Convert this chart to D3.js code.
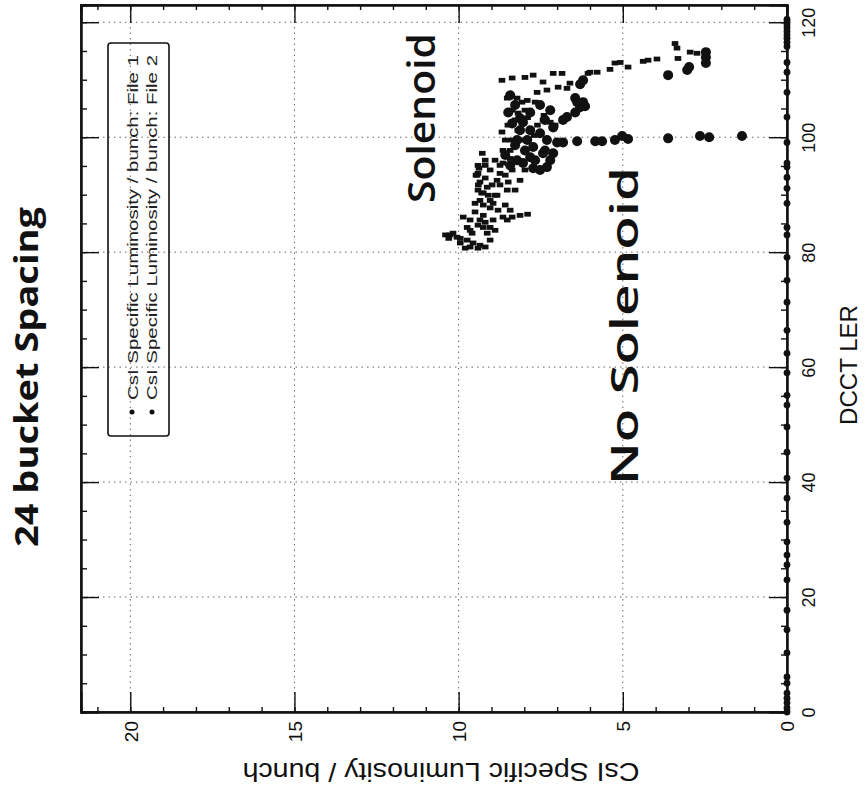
<!DOCTYPE html>
<html><head><meta charset="utf-8">
<script src="https://cdn.jsdelivr.net/npm/d3@7"></script>
<style>body{margin:0;background:#fff}</style>
</head><body>
<svg id="c" width="866" height="796"></svg>
<script>
// ---- data ----
const dcctTicks = [0,20,40,60,80,100,120];
const csiTicks = [0,5,10,15,20];
const legendLabels = ["CsI Specific Luminosity / bunch: File 1","CsI Specific Luminosity / bunch: File 2"];
// File 1 points: [DCCT LER, CsI specific luminosity]
const file1 = [
[109.9,8.68],[110.3,8.37],[110.4,7.98],[110.8,7.73],[109.6,7.43],[111.1,7.12],[111.1,6.85],
[107.8,7.61],[108.2,7.31],[108.7,6.97],[108.5,6.70],[109.4,6.61],[111.1,6.06],[111.3,5.78],[111.3,6.00],
[111.8,5.39],[112.9,5.24],[113.0,5.08],[112.2,4.84],[113.2,4.38],[113.4,4.23],[113.6,3.96],
[116.3,3.41],[115.5,3.35],[113.7,3.32],[114.8,2.95],[114.6,2.74],
[106.8,8.52],[106.8,8.22],[106.1,8.07],[106.4,7.91],[106.1,7.67],[104.7,8.37],[104.2,8.19],[104.7,7.98],
[103.0,8.28],[102.4,8.04],[103.0,7.43],[102.6,7.21],[102.1,7.06],[100.9,8.68],
[97.2,9.28],[93.7,9.41],[92.2,9.35],[90.3,9.25],[91.3,9.13],[89.0,9.04],[88.5,9.50],[88.2,9.25],[88.5,8.95],
[92.5,8.83],[93.7,8.74],[95.5,8.65],[90.8,8.52],[89.9,8.89],[94.3,9.04],[95.1,9.19],[97.7,8.43],[99.5,8.58],
[96.0,8.89],[91.7,8.74],[88.2,8.58],[87.3,8.43],
[86.1,9.86],[85.6,9.65],[84.3,9.74],[85.6,9.35],[84.3,9.25],[84.3,9.04],[83.3,9.13],[85.6,8.95],[86.1,8.65],
[86.1,8.37],[85.6,8.52],[86.4,8.13],[86.6,7.90],
[83.0,10.26],[82.6,10.05],[82.1,9.74],[81.6,9.56],[81.2,9.35],[82.1,9.04],[83.3,9.59],[83.3,10.17],[82.4,9.95],
[80.7,9.80],[80.7,9.41],[80.9,9.19],[82.4,10.30],[83.0,10.40],
[93.4,9.47],[94.6,9.38],[91.7,9.40],[90.3,9.30],
[90.8,8.28],[92.5,8.13],[94.3,7.98],
[101.2,8.20],[99.5,8.00],[100.3,7.70],[102.1,7.60],[103.8,7.40],[103.4,7.90],[102.1,8.50],[99.5,8.40],
[93.4,9.44],[92.9,9.19],[91.7,8.98],[90.8,9.41],[89.9,9.10],[89.9,8.83],[89.0,9.35],[87.7,9.04],[87.3,8.80],
[87.0,9.50],[86.4,9.25],[84.7,9.41],[85.2,9.19],[83.8,8.89],[83.8,9.65],[81.6,9.95],[80.9,9.65],
[97.7,8.65],[96.3,8.43],[95.1,8.74],[93.4,8.58],[94.3,8.37],[92.2,8.49],[96.0,9.19],[95.1,9.41]
];
// File 2 points: [DCCT LER, CsI specific luminosity]
const file2 = [
[99.1,6.82],[99.3,6.39],[99.3,5.84],[99.3,5.63],[99.5,5.24],[100.2,5.02],[99.7,4.84],[99.8,3.62],
[100.2,2.65],[100.0,2.37],[100.2,1.37],[99.1,7.00],
[109.9,6.21],[109.2,6.30],[106.1,6.21],[105.4,6.15],[105.2,6.30],[106.8,6.45],[106.1,6.39],[104.3,6.45],
[103.5,6.70],[103.0,6.82],
[110.8,3.62],[111.7,3.04],[112.2,2.98],[114.8,2.47],[113.9,2.47],[112.9,2.47],
[96.0,8.22],[95.5,8.04],[94.6,7.73],[94.3,7.52],[94.8,7.31],[97.2,7.12],[97.2,7.43],[96.5,7.82],
[101.7,7.12],[100.7,7.52],[99.5,7.91],[99.5,8.22],[98.3,7.73],[102.4,8.37],[102.6,8.04],[99.5,7.31],[96.0,7.67],
[97.7,7.98],[103.0,7.37],[104.7,7.21],[105.6,7.52],[101.2,8.13],[98.6,8.28],[101.2,7.82],[95.1,8.43],[96.9,8.58],
[96.0,7.21],[97.7,7.37],
[107.3,8.43],[105.6,8.28],[104.3,8.49],[103.3,8.13],[104.3,7.82]
];
// DCCT values where luminosity is zero
const zeroDcct = [0,0.7,1.6,2.4,3.3,5.0,6.1,10.3,14.3,17.7,23.0,25.6,27.3,29.6,33.0,37.2,40.7,45.2,49.6,53.4,
55.1,59.0,62.4,66.4,71.3,75.1,79.1,83.0,84.3,88.5,91.1,93.0,94.8,95.5,99.1,103.5,107.8,111.3,113.0,
115.8,116.5,117.2,117.8,118.4,119.0,119.5,120.0,120.5];

// ---- chart ----
const svg = d3.select("#c");
const L = 81, R = 787, T = 5, B = 712;
const x = d3.scaleLinear().domain([0, 21.5]).range([R, L]);   // CsI -> screen x
const y = d3.scaleLinear().domain([0, 123]).range([B, T]);    // DCCT -> screen y
const tickFont = "'Liberation Sans', Arial, sans-serif";

// grid
const grid = svg.append("g").attr("stroke", "#666").attr("stroke-width", 1).attr("stroke-dasharray", "1.5,4");
grid.selectAll("line.h").data(dcctTicks.filter(d => d > 0)).join("line")
  .attr("x1", L).attr("x2", R).attr("y1", d => y(d)).attr("y2", d => y(d));
grid.selectAll("line.v").data(csiTicks.filter(d => d > 0)).join("line")
  .attr("y1", T).attr("y2", B).attr("x1", d => x(d)).attr("x2", d => x(d));

// frame
svg.append("rect").attr("x", L).attr("y", T).attr("width", R - L).attr("height", B - T)
  .attr("fill", "none").attr("stroke", "#111").attr("stroke-width", 1.6);

// right (DCCT) axis
const gR = svg.append("g").attr("transform", `translate(${R},0)`);
gR.call(d3.axisRight(y).tickValues(d3.range(0, 121, 5)).tickSize(-6).tickFormat(""));
const gRM = svg.append("g").attr("transform", `translate(${R},0)`);
gRM.call(d3.axisRight(y).tickValues(dcctTicks).tickSize(-18).tickFormat(d3.format("d")));
gRM.selectAll("text").attr("x", null).attr("dy", null)
  .attr("transform", "translate(22,0) rotate(-90)").attr("text-anchor", "middle").attr("dy", "0.35em")
  .attr("font-size", 18).attr("font-family", tickFont).attr("fill", "#111");

// bottom (CsI) axis
const gB = svg.append("g").attr("transform", `translate(0,${B})`);
gB.call(d3.axisBottom(x).tickValues(d3.range(0, 21.1, 1)).tickSize(-5).tickFormat(""));
const gBM = svg.append("g").attr("transform", `translate(0,${B})`);
gBM.call(d3.axisBottom(x).tickValues(csiTicks).tickSize(-20).tickFormat(d3.format("d")));
gBM.selectAll("text").attr("y", null).attr("dy", null)
  .attr("transform", "translate(0,9) rotate(-90)").attr("text-anchor", "end").attr("dy", "0.36em")
  .attr("font-size", 19).attr("font-family", tickFont).attr("fill", "#111");

// mirror ticks on left and top frame
const gL = svg.append("g").attr("transform", `translate(${L},0)`);
gL.call(d3.axisLeft(y).tickValues(d3.range(0, 121, 5)).tickSize(-6).tickFormat(""));
const gLM = svg.append("g").attr("transform", `translate(${L},0)`);
gLM.call(d3.axisLeft(y).tickValues(dcctTicks).tickSize(-18).tickFormat(""));
const gT = svg.append("g").attr("transform", `translate(0,${T})`);
gT.call(d3.axisTop(x).tickValues(d3.range(0, 21.1, 1)).tickSize(-5).tickFormat(""));
const gTM = svg.append("g").attr("transform", `translate(0,${T})`);
gTM.call(d3.axisTop(x).tickValues(csiTicks).tickSize(-18).tickFormat(""));
[gR, gRM, gB, gBM, gL, gLM, gT, gTM].forEach(g => {
  g.select(".domain").attr("stroke", "#111").attr("stroke-width", 2);
  g.selectAll(".tick line").attr("stroke", "#111").attr("stroke-width", 1.4);
});

// data marks
svg.append("g").selectAll("circle").data(zeroDcct).join("circle")
  .attr("cx", x(0)).attr("cy", d => y(d)).attr("r", 3.4).attr("fill", "#111");
svg.append("g").selectAll("rect").data(file1).join("rect")
  .attr("x", d => x(d[1]) - 3.3).attr("y", d => y(d[0]) - 2.4).attr("width", 6.6).attr("height", 4.8)
  .attr("fill", "#111");
svg.append("g").selectAll("circle").data(file2).join("circle")
  .attr("cx", d => x(d[1])).attr("cy", d => y(d[0])).attr("r", 5).attr("fill", "#111");

// legend
const lg = svg.append("g");
lg.append("rect").attr("x", 108).attr("y", 43).attr("width", 61).attr("height", 393).attr("rx", 3)
  .attr("fill", "none").attr("stroke", "#111").attr("stroke-width", 1.6);
[[132, 138], [152, 157]].forEach((p, i) => {
  lg.append("circle").attr("cx", p[0]).attr("cy", 412).attr("r", 2.5).attr("fill", "#111");
  lg.append("text").attr("transform", `translate(${p[1]},400) rotate(-90)`)
    .attr("font-family", tickFont).attr("font-size", 14).attr("fill", "#222")
    .attr("textLength", 345).attr("lengthAdjust", "spacingAndGlyphs").text(legendLabels[i]);
});

// axis titles
svg.append("text").attr("transform", "translate(857,365) rotate(-90)").attr("text-anchor", "middle")
  .attr("font-family", tickFont).attr("font-size", 23).attr("fill", "#111")
  .attr("textLength", 120).attr("lengthAdjust", "spacingAndGlyphs").text("DCCT LER");
svg.append("text").attr("transform", "translate(441,763) rotate(180)").attr("text-anchor", "middle")
  .attr("font-family", tickFont).attr("font-size", 25).attr("fill", "#111")
  .attr("textLength", 397).attr("lengthAdjust", "spacingAndGlyphs").text("CsI Specific Luminosity / bunch");

// title and annotations
const ann = "'Open Sans', 'DejaVu Sans', sans-serif";
svg.append("text").attr("transform", "translate(38,547) rotate(-90)")
  .attr("font-family", ann).attr("font-weight", 700).attr("font-size", 32).attr("fill", "#111")
  .attr("textLength", 340).attr("lengthAdjust", "spacingAndGlyphs").text("24 bucket Spacing");
svg.append("text").attr("transform", "translate(435,203) rotate(-90)")
  .attr("font-family", ann).attr("font-weight", 600).attr("font-size", 38).attr("fill", "#111")
  .attr("textLength", 170).attr("lengthAdjust", "spacingAndGlyphs").text("Solenoid");
svg.append("text").attr("transform", "translate(638,485) rotate(-90)")
  .attr("font-family", ann).attr("font-weight", 600).attr("font-size", 38).attr("fill", "#111")
  .attr("textLength", 318).attr("lengthAdjust", "spacingAndGlyphs").text("No Solenoid");
</script>
</body></html>
